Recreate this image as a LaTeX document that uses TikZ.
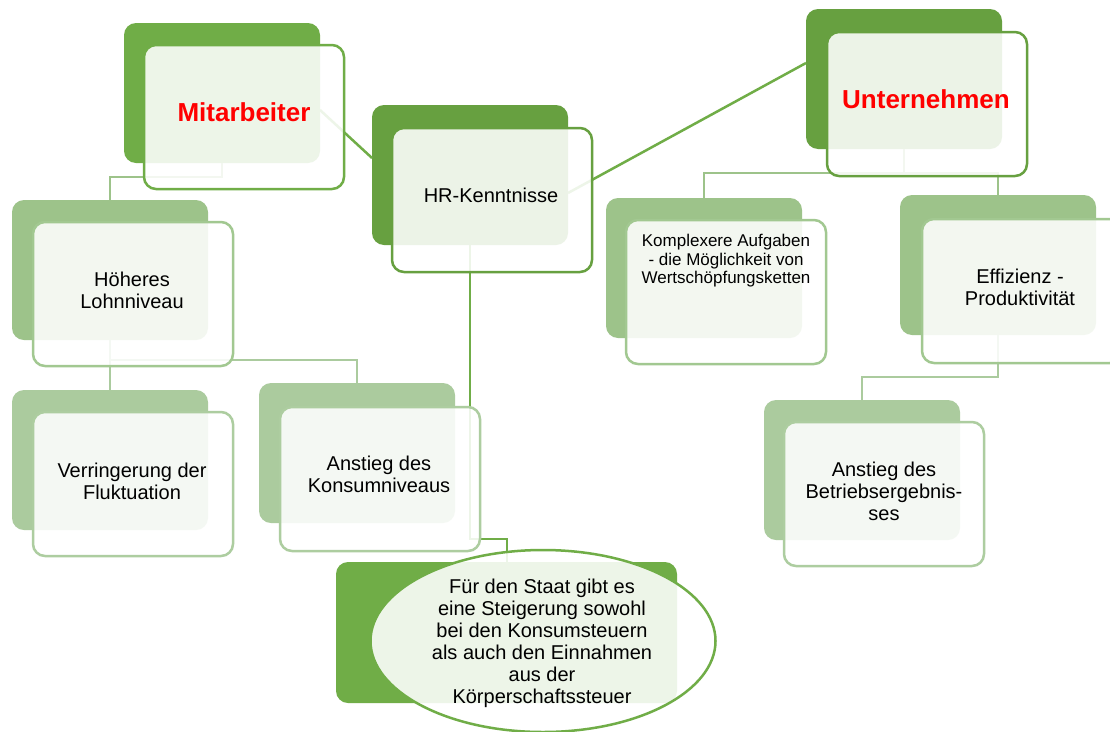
\documentclass[tikz,border=0pt]{standalone}
\usepackage{fontspec}
\setmainfont{Liberation Sans}
\usetikzlibrary{shapes.geometric}
\definecolor{gA}{HTML}{70AD47}
\definecolor{gB}{HTML}{67A040}
\definecolor{lA}{HTML}{9DC38A}
\definecolor{lAb}{HTML}{A2C891}
\definecolor{lB}{HTML}{ABCB9E}
\definecolor{lBb}{HTML}{ADCDA0}
\tikzset{
  backbox/.style={rectangle, rounded corners=12pt, minimum width=196pt, minimum height=140pt, inner sep=0pt, outer sep=0pt, anchor=north west},
  frontbox/.style={rectangle, rounded corners=12pt, fill=white, fill opacity=0.88, line width=2.5pt, minimum width=200pt, minimum height=144pt, inner sep=0pt, outer sep=0pt, anchor=north west},
  lbl/.style={text=black, font=\fontsize{20}{22}\selectfont, align=center, inner sep=0pt},
  lblsmall/.style={text=black, font=\fontsize{17}{18.5}\selectfont, align=center, inner sep=0pt},
  title/.style={text=red, font=\fontsize{26}{30}\selectfont\bfseries, inner sep=0pt},
  conn/.style={line width=2pt},
}
\begin{document}
\begin{tikzpicture}[x=1pt,y=-1pt]
\useasboundingbox (0,0) rectangle (1110,731);
\clip (0,0) rectangle (1110,731);
\fill[white] (0,0) rectangle (1110,731);

% back boxes
\node[backbox, fill=gA] (mitB) at (124,23) {};
\node[backbox, fill=gB] (hrB) at (372,105) {};
\node[backbox, fill=gB] (untB) at (806,9) {};
\node[backbox, fill=lA] (hoeB) at (12,200) {};
\node[backbox, fill=lB] (verB) at (12,390) {};
\node[backbox, fill=lB] (konB) at (259,383) {};
\node[backbox, fill=lA] (kompB) at (606,198) {};
\node[backbox, fill=lA] (effB) at (900,195) {};
\node[backbox, fill=lB] (betB) at (764,400) {};
\node[backbox, fill=gA, minimum width=341pt, minimum height=141pt] (staB) at (336,562) {};

% connectors
\draw[conn, gA, line width=2.5pt] ([yshift=-17pt]mitB.east) -- ([yshift=17pt]hrB.west);
\draw[conn, gA, line width=2.5pt] ([yshift=-18pt]hrB.east) -- ([yshift=16pt]untB.west);
\draw[conn, lA] (mitB.south) -- ++(0,14) -| (hoeB.north);
\draw[conn, lB] (hoeB.south) -- (verB.north);
\draw[conn, lB] (hoeB.south) -- ++(0,20) -| (konB.north);
\draw[conn, lA] (untB.south) -- ++(0,24) -| (kompB.north);
\draw[conn, lA] (untB.south) -- ++(0,24) -| (effB.north);
\draw[conn, lB] (effB.south) -- ++(0,42) -| (betB.north);
\draw[conn, gA] (hrB.south) -- ++(0,294) -| (staB.north);

% front boxes
\node[frontbox, draw=gA] (mitF) at (144,45) {};
\node[frontbox, draw=gB] (hrF) at (392,128) {};
\node[frontbox, draw=gB] (untF) at (827,32) {};
\node[frontbox, draw=lAb] (hoeF) at (33,222) {};
\node[frontbox, draw=lBb] (verF) at (33,412) {};
\node[frontbox, draw=lBb] (konF) at (280,407) {};
\node[frontbox, draw=lAb] (kompF) at (626,220) {};
\node[frontbox, draw=lAb] (effF) at (922,219) {};
\node[frontbox, draw=lBb] (betF) at (784,422) {};
\node[ellipse, draw=gA, line width=2.5pt, fill=white, fill opacity=0.88, minimum width=345pt, minimum height=182pt, inner sep=0pt] (staE) at (543,641) {};

% labels
\node[title] (mitT) at (244,112) {Mitarbeiter};
\node[title] (untT) at (926,99) {Unternehmen};
\node[lbl] (hrT) at (491,195) {HR-Kenntnisse};
\node[lbl] (hoeT) at (132,290) {Höheres\\Lohnniveau};
\node[lbl] (verT) at (132,481) {Verringerung der\\Fluktuation};
\node[lbl] (konT) at (379,474) {Anstieg des\\Konsumniveaus};
\node[lblsmall] (kompT) at (726,261) {Komplexere Aufgaben\\- die Möglichkeit von\\Wertschöpfungsketten};
\node[lbl] (effT) at (1020,287) {Effizienz -\\Produktivität};
\node[lbl] (betT) at (884,491) {Anstieg des\\Betriebsergebnis-\\ses};
\node[lbl] (staT) at (542,643) {Für den Staat gibt es\\eine Steigerung sowohl\\bei den Konsumsteuern\\als auch den Einnahmen\\aus der\\Körperschaftssteuer};
\end{tikzpicture}
\end{document}
